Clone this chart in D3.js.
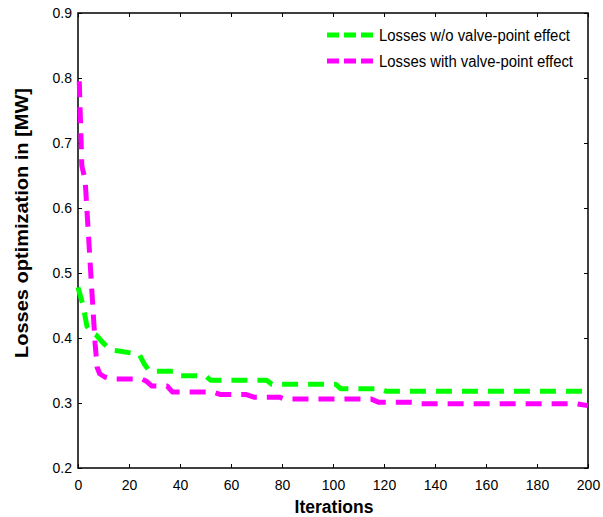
<!DOCTYPE html>
<html><head><meta charset="utf-8">
<script src="https://cdn.jsdelivr.net/npm/d3@7"></script>
<style>body{margin:0;background:#fff}svg{display:block}text{font-family:Arial,"Liberation Sans",sans-serif}</style>
</head><body><svg id="c" width="603" height="517"></svg>
<script>
const xTicks = [0,20,40,60,80,100,120,140,160,180,200];
const yTicks = [0.2,0.3,0.4,0.5,0.6,0.7,0.8,0.9];
const seriesNames = ["Losses w/o valve-point effect","Losses with valve-point effect"];
const greenIter = [0,2,3.5,5,7,10,12.5,16,24,26,28,38,40,50,52,74,76,101,103,118,121,200];
const greenVal  = [0.478,0.45,0.418,0.41,0.405,0.392,0.382,0.380,0.375,0.36,0.349,0.349,0.342,0.342,0.335,0.335,0.329,0.329,0.322,0.322,0.318,0.318];
const magIter = [0.5,1.5,2.8,5,6.7,7.5,8.5,10.5,13.5,25,27,29,35,37,53,56,66,69,79,81,115,118,132,134,195,200];
const magVal  = [0.795,0.665,0.643,0.5,0.392,0.355,0.345,0.34,0.337,0.337,0.333,0.326,0.326,0.317,0.317,0.313,0.313,0.309,0.309,0.306,0.306,0.301,0.301,0.299,0.299,0.296];

const svg = d3.select("#c");
const L=78, R=588, T=13, B=468;
const x = d3.scaleLinear().domain([0,200]).range([L,R]);
const y = d3.scaleLinear().domain([0.2,0.9]).range([B,T]);

// axes with inward ticks
const fmt = d3.format(".1f");
const ax = (g)=>g.selectAll(".domain").remove();
svg.append("g").attr("transform",`translate(0,${B})`)
  .call(d3.axisBottom(x).tickValues(xTicks).tickSizeInner(-4).tickSizeOuter(0).tickPadding(12))
  .call(g=>{g.select(".domain").remove();g.selectAll("text").attr("font-size",14).attr("fill","#000");});
svg.append("g").attr("transform",`translate(0,${T})`)
  .call(d3.axisTop(x).tickValues(xTicks).tickSizeInner(-4).tickSizeOuter(0).tickFormat(""))
  .call(ax);
svg.append("g").attr("transform",`translate(${L},0)`)
  .call(d3.axisLeft(y).tickValues(yTicks).tickFormat(fmt).tickSizeInner(-4).tickSizeOuter(0).tickPadding(6))
  .call(g=>{g.select(".domain").remove();g.selectAll("text").attr("font-size",14).attr("fill","#000");});
svg.append("g").attr("transform",`translate(${R},0)`)
  .call(d3.axisRight(y).tickValues(yTicks).tickSizeInner(-4).tickSizeOuter(0).tickFormat(""))
  .call(ax);
svg.append("rect").attr("x",L).attr("y",T).attr("width",R-L).attr("height",B-T)
  .attr("fill","none").attr("stroke","#000").attr("stroke-width",1.5);

const line = d3.line().x(d=>x(d[0])).y(d=>y(d[1]));
const gData = greenIter.map((v,i)=>[v,greenVal[i]]);
const mData = magIter.map((v,i)=>[v,magVal[i]]);
const colors = ["#00ff00","#ff00ff"];
[gData,mData].forEach((d,i)=>{
  svg.append("path").datum(d).attr("d",line).attr("fill","none")
    .attr("stroke",colors[i]).attr("stroke-width",5).attr("stroke-dasharray","16,10")
    .attr("stroke-linejoin","round");
});

// legend
const legY=[35,61], legLen=[191,194];
seriesNames.forEach((n,i)=>{
  svg.append("line").attr("x1",327).attr("x2",373).attr("y1",legY[i]).attr("y2",legY[i])
    .attr("stroke",colors[i]).attr("stroke-width",5).attr("stroke-dasharray","12,5");
  svg.append("text").attr("x",379).attr("y",legY[i]+5.5).attr("font-size",16)
    .attr("textLength",legLen[i]).attr("lengthAdjust","spacingAndGlyphs").attr("fill","#000").text(n);
});

// axis titles
svg.append("text").attr("x",334).attr("y",513).attr("text-anchor","middle")
  .attr("font-size",17.5).attr("font-weight","bold").text("Iterations");
svg.append("text").attr("transform","translate(28,223) rotate(-90)").attr("text-anchor","middle")
  .attr("font-size",19).attr("font-weight","bold").attr("textLength",270).attr("lengthAdjust","spacingAndGlyphs")
  .text("Losses optimization in [MW]");
</script></body></html>
